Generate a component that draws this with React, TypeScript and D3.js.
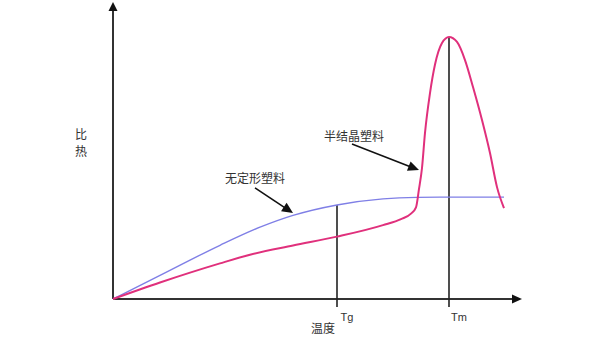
import React from "react";
import * as d3 from "d3";

// Specific heat vs. temperature for amorphous and semi-crystalline plastics
// x: temperature (relative units), y: specific heat (relative units)
const amorphousX = [0, 11.75, 26.75, 36.75, 45, 56, 67.5, 76, 84, 97.75];
const amorphousY = [0, 9.0, 20.5, 27.4, 31.9, 35.9, 38.2, 38.8, 38.9, 38.9];

const semiX = [0, 11.75, 26.75, 34.25, 45, 56, 67.5, 72, 74.5, 75.75, 76.5, 77.25, 78, 79.25, 80.5, 82.25, 84, 86, 88, 90, 92.25, 94.25, 96, 97.75];
const semiY = [0, 6.3, 13.6, 16.9, 20.4, 23.8, 28.2, 30.5, 32.6, 35, 42, 50, 63.4, 78.6, 89.5, 97.7, 100, 98.1, 91.2, 80.9, 68.3, 55.7, 42.7, 34.7];

const tickNames = ["Tg", "Tm"];
const tickValues = [56, 84];
const tickTops = [35.9, 100];

const annoTexts = ["无定形塑料", "半结晶塑料"];
const annoTextX = [35.5, 60.25];
const annoTextY = [45.8, 61.8];
const annoFromX = [35.5, 59.75];
const annoFromY = [42.4, 59.2];
const annoToX = [45, 76.5];
const annoToY = [32.8, 49.2];

const yLabel = ["比", "热"];
const xLabel = "温度";

const W = 600;
const H = 338;

export default function App() {
  const x = d3.scaleLinear().domain([0, 100]).range([113, 513]);
  const y = d3.scaleLinear().domain([0, 100]).range([299, 37]);

  const line = d3
    .line<[number, number]>()
    .x((d) => x(d[0]))
    .y((d) => y(d[1]))
    .curve(d3.curveMonotoneX);

  const amorphous = amorphousX.map((v, i) => [v, amorphousY[i]] as [number, number]);
  const semi = semiX.map((v, i) => [v, semiY[i]] as [number, number]);

  const x0 = x(0);
  const y0 = y(0);
  const xEnd = x(102.25);
  const yEnd = y(113.4);

  const cjk = "'Noto Sans CJK SC', 'Noto Sans', sans-serif";

  // Filled arrowhead pointing from (fx,fy) towards (tx,ty)
  const head = (fx: number, fy: number, tx: number, ty: number, len: number, half: number) => {
    const a = Math.atan2(ty - fy, tx - fx);
    const bx = tx - len * Math.cos(a);
    const by = ty - len * Math.sin(a);
    const px = -Math.sin(a) * half;
    const py = Math.cos(a) * half;
    return `M${tx},${ty}L${bx + px},${by + py}L${bx - px},${by - py}Z`;
  };

  return (
    <svg
      width={W}
      height={H}
      style={{ position: "absolute", left: 0, top: 0, background: "#fff" }}
    >
      {/* axes */}
      <line x1={x0} y1={y0} x2={x0} y2={yEnd + 8} stroke="#333" strokeWidth={2} />
      <path d={head(x0, y0, x0, yEnd, 9, 4.5)} fill="#111" />
      <line x1={x0} y1={y0} x2={xEnd - 8} y2={y0} stroke="#333" strokeWidth={2} />
      <path d={head(x0, y0, xEnd, y0, 10, 4.5)} fill="#111" />

      {/* Tg / Tm markers */}
      {tickValues.map((t, i) => (
        <g key={tickNames[i]}>
          <line
            x1={x(t)}
            x2={x(t)}
            y1={y(tickTops[i])}
            y2={y0 + 8}
            stroke="#222"
            strokeWidth={1.6}
          />
          <text
            x={x(t) + 10}
            y={y0 + 22}
            fontSize={11}
            fontFamily="'Liberation Sans', Arial, sans-serif"
            fill="#333"
            textAnchor="middle"
          >
            {tickNames[i]}
          </text>
        </g>
      ))}

      {/* curves */}
      <path d={line(amorphous) || ""} fill="none" stroke="#7f7fe6" strokeWidth={1.4} />
      <path d={line(semi) || ""} fill="none" stroke="#e0307c" strokeWidth={2} />

      {/* annotations */}
      {annoTexts.map((s, i) => {
        const fx = x(annoFromX[i]);
        const fy = y(annoFromY[i]);
        const tx = x(annoToX[i]);
        const ty = y(annoToY[i]);
        return (
          <g key={s}>
            <text
              x={x(annoTextX[i])}
              y={y(annoTextY[i]) + 4}
              fontSize={12}
              fontFamily={cjk}
              fill="#333"
              textAnchor="middle"
            >
              {s}
            </text>
            <line x1={fx} y1={fy} x2={tx - (tx - fx) * 0.12} y2={ty - (ty - fy) * 0.12} stroke="#111" strokeWidth={1.6} />
            <path d={head(fx, fy, tx, ty, 11, 5)} fill="#111" />
          </g>
        );
      })}

      {/* axis titles */}
      {yLabel.map((c, i) => (
        <text
          key={c}
          x={81}
          y={139 + i * 17}
          fontSize={12}
          fontFamily={cjk}
          fill="#333"
          textAnchor="middle"
        >
          {c}
        </text>
      ))}
      <text x={323} y={333} fontSize={12} fontFamily={cjk} fill="#333" textAnchor="middle">
        {xLabel}
      </text>
    </svg>
  );
}
